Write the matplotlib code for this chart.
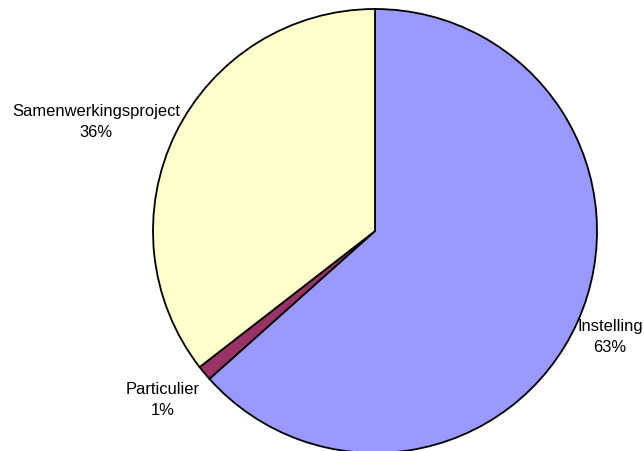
import numpy as np
import matplotlib.pyplot as plt

plt.rcParams['font.family'] = ['Liberation Sans', 'DejaVu Sans']

categories = ['Instelling', 'Particulier', 'Samenwerkingsproject']
values = [63.4, 1.1, 35.5]
colors = ['#9999FF', '#993366', '#FFFFCC']

fig = plt.figure(figsize=(6.44, 4.52), dpi=100)
ax = fig.add_axes([0, 0, 1, 1])

# pixel coordinates, y pointing up
cx, cy, r = 375, 452 - 232, 222
ax.pie(values, colors=colors, startangle=90, counterclock=False,
       center=(cx, cy), radius=r, frame=True,
       wedgeprops=dict(edgecolor='black', linewidth=1.3))

ax.set_xlim(0, 644)
ax.set_ylim(0, 452)
ax.set_aspect('equal')
ax.axis('off')

pct = [int(round(v / sum(values) * 100)) for v in values]
label_pos = [(610, 452 - 337), (163, 452 - 400), (96, 452 - 122)]
for name, p, (x, y) in zip(categories, pct, label_pos):
    ax.text(x, y, f'{name}\n{p}%', ha='center', va='center',
            fontsize=11.9, linespacing=1.45)

fig.savefig('out.png', dpi=100)
